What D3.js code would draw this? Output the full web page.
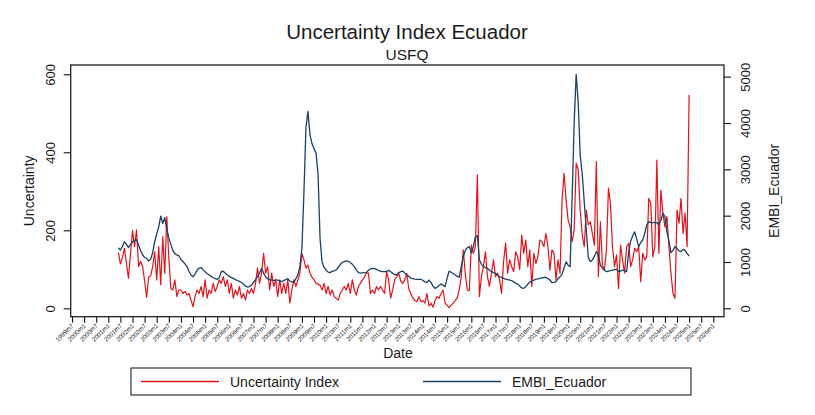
<!DOCTYPE html>
<html><head><meta charset="utf-8">
<script src="https://cdn.jsdelivr.net/npm/d3@7"></script>
<style>
body{margin:0;background:#fff}
svg{display:block;font-family:"Liberation Sans",Arial,sans-serif}
</style>
</head><body>
<svg id="c" width="815" height="415"></svg>
<script>
const chartTitle = "Uncertainty Index Ecuador";
const chartSubtitle = "USFQ";
const xTitle = "Date";
const yLeftTitle = "Uncertainty";
const yRightTitle = "EMBI_Ecuador";
const seriesNames = ["Uncertainty Index", "EMBI_Ecuador"];
const startMonth = "2001m6";

const uncertainty = [
143,114,130,154,115,77,140,199,158,201,
107,120,107,70,28,81,83,107,145,73,
158,60,184,90,235,130,51,47,73,30,
47,47,38,43,34,38,21,4,30,47,
38,56,30,73,26,47,38,64,43,56,
73,64,81,56,73,38,64,26,47,34,
56,26,38,21,47,38,51,38,64,103,
64,90,141,90,107,47,90,56,73,30,
73,38,64,38,73,13,47,73,56,73,
90,141,124,103,111,90,80,73,64,62,
59,47,64,38,56,34,47,30,26,21,
38,47,56,47,64,38,73,47,34,56,
64,73,80,90,90,38,47,38,56,47,
56,47,38,94,73,26,47,73,81,90,
70,64,73,90,50,38,26,20,17,30,
17,20,13,38,6,13,3,20,30,26,
38,47,13,8,2,8,13,20,26,47,
80,150,90,47,45,162,141,158,342,30,
81,107,145,81,56,90,124,81,90,73,
38,120,167,90,124,107,94,145,132,100,
188,141,175,107,150,56,141,115,132,175,
171,158,192,158,98,150,141,73,124,90,
278,346,278,226,209,171,201,372,355,252,
188,158,252,214,222,192,162,376,81,222,
111,98,150,308,269,158,107,137,51,162,
124,90,158,167,107,124,154,145,158,68,
141,124,132,282,269,132,158,380,141,303,
244,209,235,158,90,38,26,252,218,282,
192,244,158,547
];

const embi = [
1308,1260,1330,1440,1380,1310,1380,1437,1470,1480,
1366,1250,1150,1100,1080,1020,1060,1200,1437,1600,
1760,1990,1830,1960,1700,1520,1380,1250,1180,1150,
1135,1060,1010,960,900,800,720,682,740,820,
870,880,830,790,750,720,690,660,640,625,
660,790,800,760,720,690,660,647,620,600,
580,560,520,480,460,470,500,560,620,690,
760,860,760,680,640,620,610,600,615,610,
590,575,600,620,640,590,570,560,640,720,
900,1300,2500,3900,4250,3750,3550,3450,3350,2900,
1500,1000,880,830,780,770,800,810,830,880,
950,990,1010,1025,1015,990,950,900,830,770,
760,765,770,775,820,850,860,855,840,815,
800,790,790,795,820,790,755,730,720,770,
790,805,760,719,690,650,640,630,626,626,
626,600,570,560,610,560,480,432,455,490,
525,500,468,650,800,780,750,720,690,670,
900,1110,1250,1310,1330,1200,1330,1540,1570,1050,
950,899,880,863,820,791,770,755,720,683,
665,647,630,620,611,600,570,545,525,480,
440,432,468,520,570,590,610,626,635,647,
655,665,669,640,611,554,560,576,640,683,
740,870,1007,930,900,2400,4000,5050,4450,3300,
2900,2300,1700,1100,1007,1043,1120,1223,1151,930,
870,820,791,800,813,825,835,842,800,800,
827,810,791,1200,1450,1560,1650,1500,1331,1420,
1475,1619,1800,1871,1850,1849,1849,1849,1810,1900,
2050,1978,1650,1450,1200,1250,1331,1295,1240,1223,
1273,1250,1187,1129
];

const xTickLabels = [
"1999m7","2000m1","2000m7","2001m1","2001m7","2002m1","2002m7","2003m1","2003m7",
"2004m1","2004m7","2005m1","2005m7","2006m1","2006m7","2007m1","2007m7","2008m1",
"2008m7","2009m1","2009m7","2010m1","2010m7","2011m1","2011m7","2012m1","2012m7",
"2013m1","2013m7","2014m1","2014m7","2015m1","2015m7","2016m1","2016m7","2017m1",
"2017m7","2018m1","2018m7","2019m1","2019m7","2020m1","2020m7","2021m1","2021m7",
"2022m1","2022m7","2023m1","2023m7","2024m1","2024m7","2025m1","2025m7","2026m1"
];
const yLeftTicks = [0, 200, 400, 600];
const yRightTicks = [0, 1000, 2000, 3000, 4000, 5000];

const colors = {unc: "#e3121b", embi: "#1c4263", ink: "#1a1a1a"};

const parseMonth = s => { const p = s.split("m").map(Number); return p[0] * 12 + (p[1] - 1); };
const t0 = parseMonth(startMonth);

const svg = d3.select("#c");
const P = {left: 70.7, right: 724, top: 65, bottom: 316.7};

const x = d3.scaleLinear()
  .domain([parseMonth(xTickLabels[0]) - 0.65, parseMonth(xTickLabels[xTickLabels.length - 1]) + 5.3])
  .range([P.left, P.right]);
const yL = d3.scaleLinear().domain([-21.5, 623.8]).range([P.bottom, P.top]);
const yR = d3.scaleLinear().domain([-181, 5252]).range([P.bottom, P.top]);

svg.append("rect").attr("width", 815).attr("height", 415).attr("fill", "#fff");

// Titles
svg.append("text").attr("x", 407).attr("y", 39).attr("text-anchor", "middle")
  .attr("font-size", "20.5px").attr("fill", colors.ink).text(chartTitle);
svg.append("text").attr("x", 407).attr("y", 60).attr("text-anchor", "middle")
  .attr("font-size", "15.5px").attr("fill", colors.ink).text(chartSubtitle);

// Lines
const lineL = d3.line().x((d, i) => x(t0 + i)).y(d => yL(d));
const lineR = d3.line().x((d, i) => x(t0 + i)).y(d => yR(d));
svg.append("path").datum(uncertainty).attr("d", lineL).attr("fill", "none")
  .attr("stroke", colors.unc).attr("stroke-width", 1.2).attr("stroke-linejoin", "round");
svg.append("path").datum(embi).attr("d", lineR).attr("fill", "none")
  .attr("stroke", colors.embi).attr("stroke-width", 1.3).attr("stroke-linejoin", "round");

// Plot box
svg.append("rect").attr("x", P.left).attr("y", P.top)
  .attr("width", P.right - P.left).attr("height", P.bottom - P.top)
  .attr("fill", "none").attr("stroke", "#222").attr("stroke-width", 1.3);

// X axis
const gx = svg.append("g").attr("transform", `translate(0,${P.bottom})`)
  .call(d3.axisBottom(x).tickValues(xTickLabels.map(parseMonth))
    .tickFormat((d, i) => xTickLabels[i]).tickSize(6).tickSizeOuter(0));
gx.select(".domain").remove();
gx.selectAll(".tick line").attr("stroke", "#111").attr("stroke-width", 1.1);
gx.selectAll(".tick text").attr("font-size", "6.2px").attr("fill", "#222")
  .attr("text-anchor", "end").attr("dy", null).attr("x", 0).attr("y", 0)
  .attr("transform", "translate(1.5,9.5) rotate(-45)");

// Left Y axis
const gl = svg.append("g").attr("transform", `translate(${P.left},0)`)
  .call(d3.axisLeft(yL).tickValues(yLeftTicks).tickFormat(d3.format("d")).tickSize(7).tickSizeOuter(0));
gl.select(".domain").remove();
gl.selectAll(".tick line").attr("stroke", "#111").attr("stroke-width", 1.1);
gl.selectAll(".tick text").attr("font-size", "13px").attr("fill", colors.ink)
  .attr("text-anchor", "middle").attr("x", 0).attr("y", 0).attr("dy", "0.36em")
  .attr("transform", `translate(${50 - P.left},0) rotate(-90)`);

// Right Y axis
const gr = svg.append("g").attr("transform", `translate(${P.right},0)`)
  .call(d3.axisRight(yR).tickValues(yRightTicks).tickFormat(d3.format("d")).tickSize(7).tickSizeOuter(0));
gr.select(".domain").remove();
gr.selectAll(".tick line").attr("stroke", "#111").attr("stroke-width", 1.1);
gr.selectAll(".tick text").attr("font-size", "13px").attr("fill", colors.ink)
  .attr("text-anchor", "middle").attr("x", 0).attr("y", 0).attr("dy", "0.36em")
  .attr("transform", `translate(${745 - P.right},0) rotate(-90)`);

// Axis titles
const midY = (P.top + P.bottom) / 2;
svg.append("text").attr("transform", `translate(28.5,${midY}) rotate(-90)`)
  .attr("text-anchor", "middle").attr("dy", "0.36em").attr("font-size", "14px")
  .attr("fill", colors.ink).text(yLeftTitle);
svg.append("text").attr("transform", `translate(774,${midY}) rotate(-90)`)
  .attr("text-anchor", "middle").attr("dy", "0.36em").attr("font-size", "14px")
  .attr("fill", colors.ink).text(yRightTitle);
svg.append("text").attr("x", 398).attr("y", 358).attr("text-anchor", "middle")
  .attr("font-size", "14px").attr("fill", colors.ink).text(xTitle);

// Legend
const lg = svg.append("g");
lg.append("rect").attr("x", 131).attr("y", 368).attr("width", 560).attr("height", 27)
  .attr("fill", "#fff").attr("stroke", "#222").attr("stroke-width", 1.1);
const legendItems = [
  {name: seriesNames[0], color: colors.unc, x0: 141},
  {name: seriesNames[1], color: colors.embi, x0: 423}
];
legendItems.forEach(it => {
  lg.append("line").attr("x1", it.x0).attr("x2", it.x0 + 78).attr("y1", 381.5).attr("y2", 381.5)
    .attr("stroke", it.color).attr("stroke-width", 1.3);
  lg.append("text").attr("x", it.x0 + 89).attr("y", 386.5).attr("font-size", "14px")
    .attr("fill", colors.ink).text(it.name);
});
</script>
</body></html>
